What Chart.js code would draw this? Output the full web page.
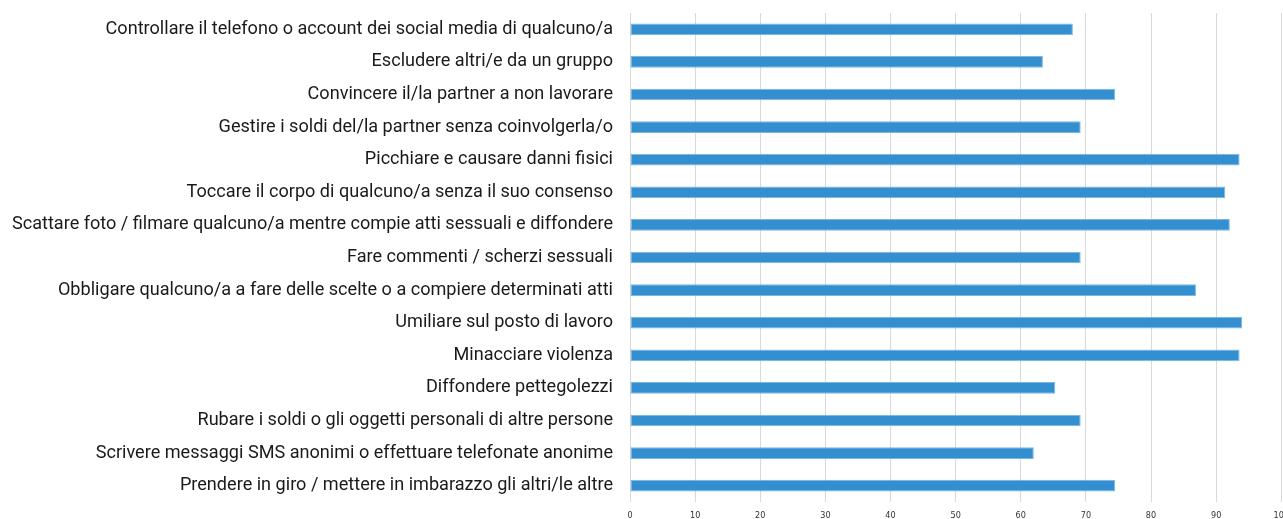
<!DOCTYPE html>
<html>
<head>
<meta charset="utf-8">
<script src="https://cdn.jsdelivr.net/npm/chart.js@4/dist/chart.umd.min.js"></script>
<style>
  html, body { margin: 0; padding: 0; background: #fff; overflow: hidden; }
  #wrap { width: 1297px; height: 519px; position: relative; }
</style>
</head>
<body>
<div id="wrap"><canvas id="grafico"></canvas></div>
<script>
// comportamenti (dall'alto in basso)
const categorie = [
    'Controllare il telefono o account dei social media di qualcuno/a',
    'Escludere altri/e da un gruppo',
    'Convincere il/la partner a non lavorare',
    'Gestire i soldi del/la partner senza coinvolgerla/o',
    'Picchiare e causare danni fisici',
    'Toccare il corpo di qualcuno/a senza il suo consenso',
    'Scattare foto / filmare qualcuno/a mentre compie atti sessuali e diffondere',
    'Fare commenti / scherzi sessuali',
    'Obbligare qualcuno/a a fare delle scelte o a compiere determinati atti',
    'Umiliare sul posto di lavoro',
    'Minacciare violenza',
    'Diffondere pettegolezzi',
    'Rubare i soldi o gli oggetti personali di altre persone',
    'Scrivere messaggi SMS anonimi o effettuare telefonate anonime',
    'Prendere in giro / mettere in imbarazzo gli altri/le altre'
];

// percentuali
const valori = [68.0, 63.4, 74.5, 69.2, 93.6, 91.4, 92.1, 69.2, 86.9, 94.0, 93.6, 65.3, 69.2, 62.0, 74.5];

const assePassi = [0, 10, 20, 30, 40, 50, 60, 70, 80, 90, 100];

// dimensione del font delle etichette: l'etichetta più lunga occupa circa 600px
const FONT_ETICHETTE = 'Roboto';
function misuraFont() {
    const c = document.createElement('canvas').getContext('2d');
    c.font = '16px ' + FONT_ETICHETTE;
    const piuLunga = Math.max(...categorie.map(t => c.measureText(t).width));
    return Math.round(16 * 600 / piuLunga * 10) / 10;
}
const dimEtichette = misuraFont();

const ctx = document.getElementById('grafico').getContext('2d');

new Chart(ctx, {
    type: 'bar',
    data: {
        labels: categorie,
        datasets: [{
            data: valori,
            backgroundColor: '#348fd0',
            borderColor: '#7cb6e3',
            borderWidth: 1,
            borderSkipped: false,
            categoryPercentage: 1,
            barPercentage: 0.36
        }]
    },
    options: {
        indexAxis: 'y',
        responsive: true,
        maintainAspectRatio: false,
        animation: false,
        layout: { padding: { top: 13, left: 0, right: 0, bottom: 0 } },
        plugins: {
            legend: { display: false },
            tooltip: { enabled: false }
        },
        scales: {
            x: {
                min: 0,
                max: 100,
                afterBuildTicks: (scale) => {
                    scale.ticks = assePassi.map(v => ({ value: v }));
                },
                afterFit: (scale) => { scale.height = 17; },
                grid: {
                    color: '#d9d9d9',
                    lineWidth: 1,
                    drawTicks: false
                },
                border: { display: false },
                ticks: {
                    padding: 8,
                    color: '#333',
                    maxRotation: 0,
                    font: { family: 'DejaVu Sans Condensed', size: 9 }
                }
            },
            y: {
                grid: { display: false, drawTicks: false },
                border: { display: false },
                afterFit: (scale) => {
                    scale.width = 630;
                    // niente margine sopra/sotto per le etichette
                    scale.paddingTop = 0;
                    scale.paddingBottom = 0;
                },
                ticks: {
                    padding: 17,
                    color: '#1a1a1a',
                    autoSkip: false,
                    font: { family: FONT_ETICHETTE, size: dimEtichette }
                }
            }
        }
    }
});
</script>
</body>
</html>
